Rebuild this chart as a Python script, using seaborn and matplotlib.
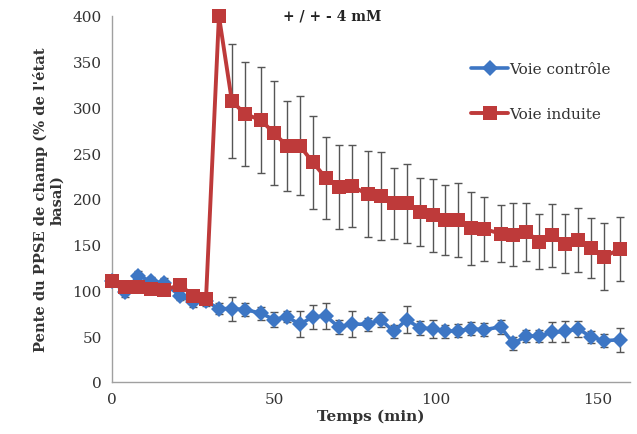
import numpy as np
import pandas as pd
import matplotlib
matplotlib.use("Agg")
import matplotlib.pyplot as plt
import seaborn as sns

# ======================================
#            DATA
# ======================================
temps = [0, 4, 8, 12, 16, 21, 25, 29, 33, 37, 41, 46, 50, 54, 58, 62, 66, 70, 74,
         79, 83, 87, 91, 95, 99, 103, 107, 111, 115, 120, 124, 128, 132, 136, 140,
         144, 148, 152, 157]

controle = [110, 98, 116, 110, 108, 94, 87, 88, 80, 80, 79, 75, 68, 71, 63, 71, 72,
            60, 63, 63, 68, 55, 68, 59, 58, 55, 56, 58, 57, 60, 42, 50, 50, 54, 55,
            58, 49, 45, 46]
controle_err = [5, 5, 5, 5, 5, 5, 5, 5, 6, 13, 7, 7, 8, 6, 14, 13, 14, 8, 14, 7, 8,
                7, 15, 8, 10, 7, 7, 7, 7, 8, 7, 7, 7, 11, 11, 9, 7, 7, 13]

induite = [110, 104, 104, 102, 100, 106, 94, 90, 400, 307, 293, 286, 272, 258, 258,
           240, 223, 213, 214, 205, 203, 195, 195, 186, 182, 177, 177, 168, 167, 162,
           161, 164, 153, 160, 151, 155, 146, 137, 145]
induite_err = [0, 0, 0, 0, 0, 0, 0, 0, 0, 62, 57, 58, 57, 49, 54, 51, 45, 46, 45, 47,
               48, 39, 43, 37, 40, 38, 40, 40, 35, 31, 34, 32, 30, 34, 32, 35, 33, 37, 35]

labels = ["Voie contrôle", "Voie induite"]

df = pd.DataFrame({
    "Temps": temps * 2,
    "Pente": controle + induite,
    "Voie": [labels[0]] * len(temps) + [labels[1]] * len(temps),
})

# ======================================
#            PLOT
# ======================================
sns.set_style("white")
plt.rcParams["font.family"] = ["DejaVu Serif"]

fig = plt.figure(figsize=(6.37, 4.35), dpi=100)
ax = fig.add_axes([0.176, 0.12, 0.813, 0.841])

blue = "#3d76c4"
red = "#be3a3a"
err_col = "#555555"

# error bars behind markers
ax.errorbar(temps, controle, yerr=controle_err, fmt="none", ecolor=err_col,
            elinewidth=1, capsize=3, capthick=1, zorder=1)
ax.errorbar(temps, induite, yerr=induite_err, fmt="none", ecolor=err_col,
            elinewidth=1, capsize=3, capthick=1, zorder=1)

sns.lineplot(data=df[df["Voie"] == labels[0]], x="Temps", y="Pente", color=blue,
             marker="D", markersize=8, markeredgewidth=0, linewidth=2.6,
             label=labels[0], ax=ax, zorder=3, clip_on=False)
sns.lineplot(data=df[df["Voie"] == labels[1]], x="Temps", y="Pente", color=red,
             marker="s", markersize=10, markeredgewidth=0, linewidth=2.8,
             label=labels[1], ax=ax, zorder=4, clip_on=False)

ax.set_xlim(0, 160)
ax.set_ylim(0, 400)
ax.set_xticks([0, 50, 100, 150])
ax.set_yticks(range(0, 401, 50))
ax.tick_params(axis="both", labelsize=11, colors="#444444", length=4,
               direction="out", width=0.8)
ax.tick_params(axis="both", labelcolor="#333333")

for s in ["top", "right"]:
    ax.spines[s].set_visible(False)
for s in ["left", "bottom"]:
    ax.spines[s].set_color("#a0a0a0")
    ax.spines[s].set_linewidth(1)

ax.set_xlabel("Temps (min)", fontsize=11, fontweight="bold", color="#333333",
              labelpad=2)
ax.set_ylabel("Pente du PPSE de champ (% de l'état\nbasal)", fontsize=10.5,
              fontweight="bold", color="#333333", labelpad=6)

ax.text(0.425, 1.0, "+ / + - 4 mM", transform=ax.transAxes, fontsize=10,
        fontweight="bold", ha="center", va="center", color="#222222")

leg = ax.legend(loc="upper right", bbox_to_anchor=(0.975, 0.89), frameon=False,
                fontsize=11, labelspacing=2.0, handlelength=2.4,
                handletextpad=0.1, borderaxespad=0)
for t in leg.get_texts():
    t.set_color("#333333")

fig.savefig("out.png", dpi=100)
